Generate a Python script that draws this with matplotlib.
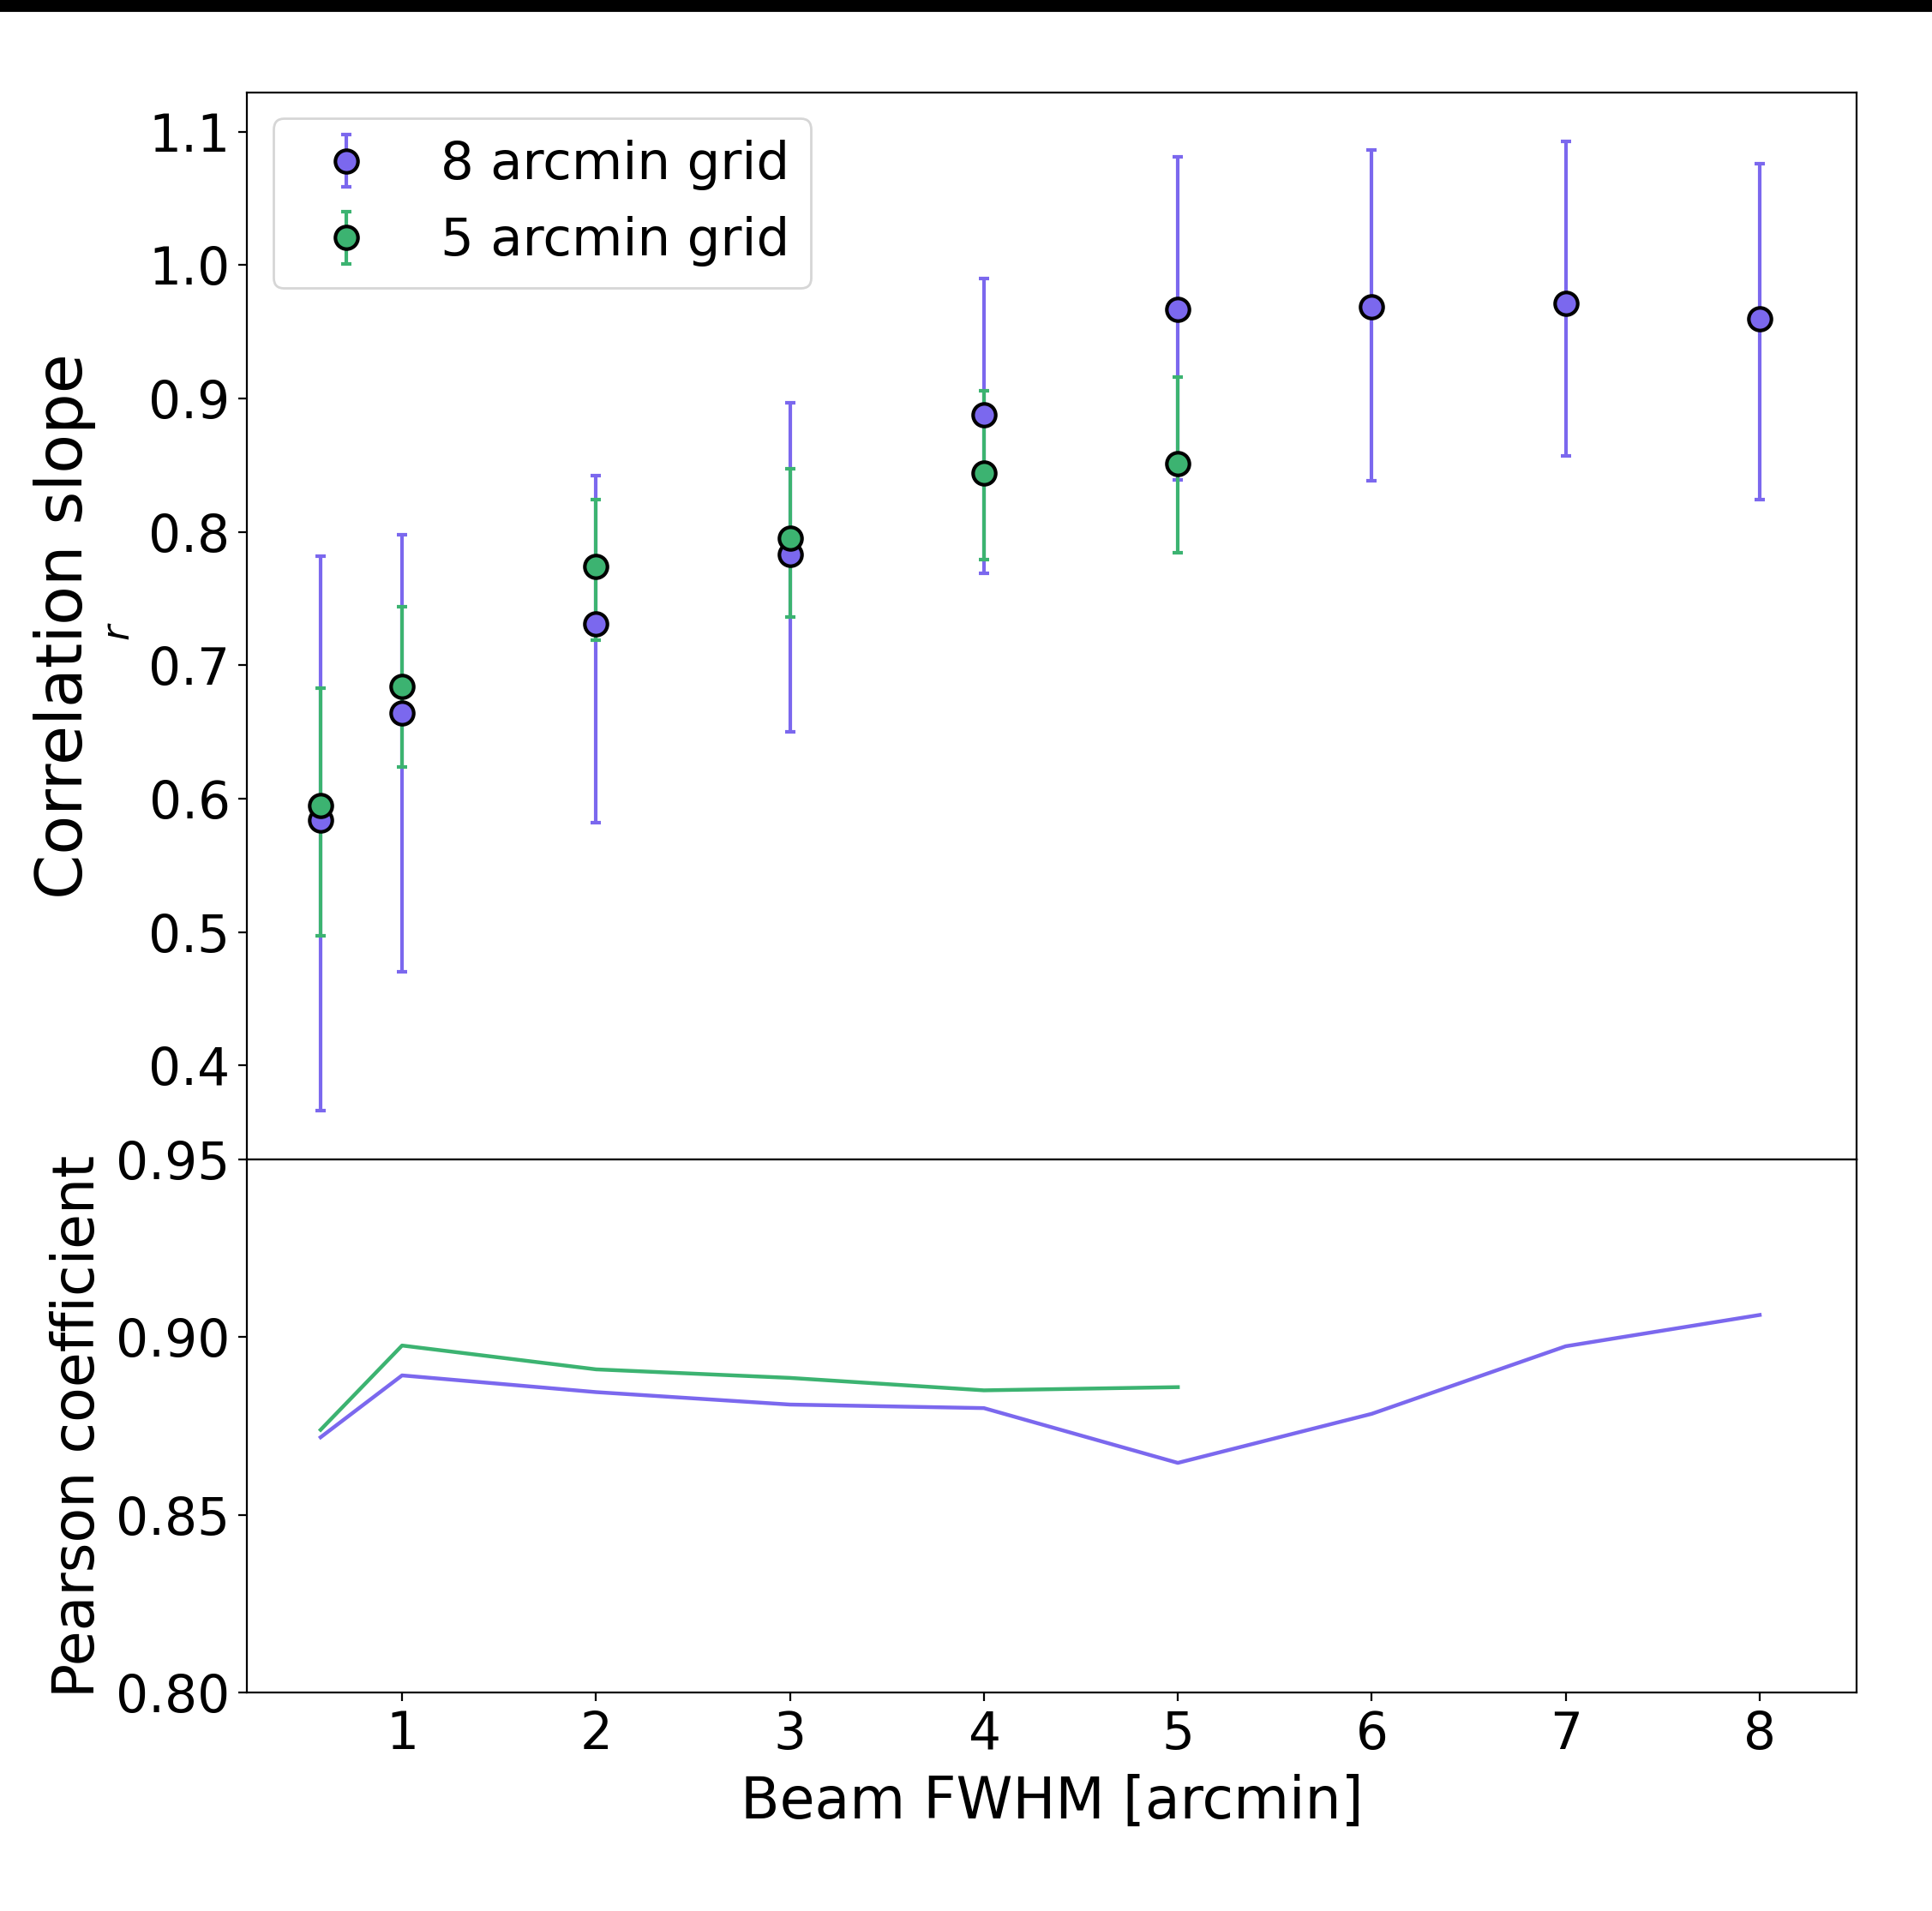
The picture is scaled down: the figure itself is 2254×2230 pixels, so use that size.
import matplotlib
matplotlib.use("Agg")
import matplotlib.pyplot as plt
from matplotlib.patches import Rectangle

# Beam FWHM values [arcmin]
beam_8 = [0.58, 1, 2, 3, 4, 5, 6, 7, 8]
beam_5 = [0.58, 1, 2, 3, 4, 5]

# Correlation slope with lower / upper error-bar ends, 8 arcmin grid
slope_8 = [0.584, 0.664, 0.731, 0.783, 0.888, 0.967, 0.969, 0.971, 0.960]
slope_8_lo = [0.366, 0.470, 0.582, 0.650, 0.769, 0.839, 0.838, 0.857, 0.824]
slope_8_hi = [0.782, 0.798, 0.842, 0.897, 0.990, 1.081, 1.086, 1.093, 1.076]

# Correlation slope with lower / upper error-bar ends, 5 arcmin grid
slope_5 = [0.595, 0.684, 0.774, 0.795, 0.844, 0.851]
slope_5_lo = [0.497, 0.624, 0.719, 0.736, 0.779, 0.784]
slope_5_hi = [0.683, 0.744, 0.824, 0.847, 0.906, 0.916]

# Pearson correlation coefficients
pearson_8 = [0.8718, 0.8892, 0.8845, 0.8810, 0.8800, 0.8646, 0.8784, 0.8974, 0.9062]
pearson_5 = [0.8739, 0.8976, 0.8909, 0.8885, 0.8850, 0.8859]

labels = ["8 arcmin grid", "5 arcmin grid"]
xticks = [1, 2, 3, 4, 5, 6, 7, 8]

c8 = "#7B68EE"
c5 = "#3CB371"

fig = plt.figure(figsize=(11.27, 11.15), dpi=200)
gs = fig.add_gridspec(2, 1, height_ratios=[2, 1], hspace=0,
                      left=0.1278, right=0.961, bottom=0.1143, top=0.9516)
ax1 = fig.add_subplot(gs[0])
ax2 = fig.add_subplot(gs[1], sharex=ax1)

def yerr(v, lo, hi):
    return [[a - b for a, b in zip(v, lo)], [c - a for a, c in zip(v, hi)]]

style = dict(fmt="o", markersize=9.5, markeredgecolor="black",
             markeredgewidth=1.5, elinewidth=1.5, capsize=2.3, capthick=1.5)
ax1.errorbar(beam_8, slope_8, yerr=yerr(slope_8, slope_8_lo, slope_8_hi),
             color=c8, label=labels[0], **style)
ax1.errorbar(beam_5, slope_5, yerr=yerr(slope_5, slope_5_lo, slope_5_hi),
             color=c5, label=labels[1], **style)

ax1.set_ylabel("Correlation slope", fontsize=27, labelpad=22)
ax1.text(-0.0795, 0.495, "$r$", transform=ax1.transAxes, rotation=90,
         fontsize=16, ha="center", va="center")
ax1.legend(loc="upper left", fontsize=22)
ax1.tick_params(labelbottom=False, labelsize=21.5)
ax1.set_yticks([0.4, 0.5, 0.6, 0.7, 0.8, 0.9, 1.0, 1.1])

ax2.plot(beam_8, pearson_8, color=c8, lw=1.6)
ax2.plot(beam_5, pearson_5, color=c5, lw=1.6)
ax2.set_ylim(0.80, 0.95)
ax2.set_yticks([0.80, 0.85, 0.90, 0.95])
ax2.set_ylabel("Pearson coefficient", fontsize=24)
ax2.set_xlabel("Beam FWHM [arcmin]", fontsize=24, labelpad=6)
ax2.set_xticks(xticks)
ax2.set_xlim(0.2, 8.5)
ax2.tick_params(labelsize=21.5)

# Black band along the top edge of the figure
fig.patches.append(Rectangle((0, 1 - 12 / 2230), 1, 12 / 2230,
                             transform=fig.transFigure, color="black",
                             zorder=10))

fig.savefig("out.png", dpi=200)
